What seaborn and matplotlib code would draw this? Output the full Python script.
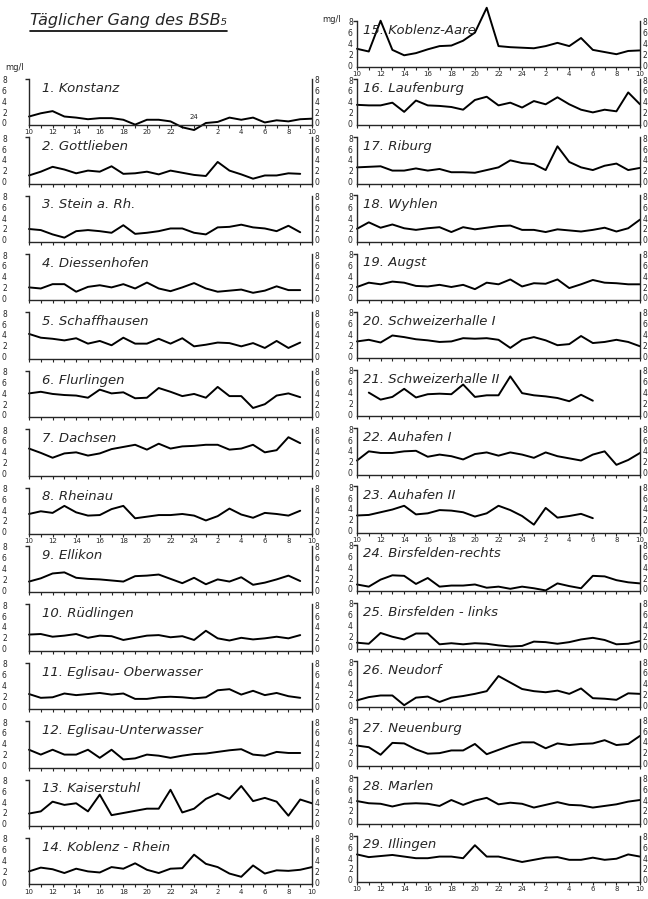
import numpy as np
import pandas as pd
import matplotlib
matplotlib.use('Agg')
import matplotlib.pyplot as plt
import seaborn as sns
from matplotlib.ticker import FixedLocator
from matplotlib.lines import Line2D

nan = np.nan

# one reading per hour, from 10 h to 10 h next day
hours = list(range(25))
hour_labels = ['10', '12', '14', '16', '18', '20', '22', '24', '2', '4', '6', '8', '10']
y_ticks = [0, 2, 4, 6, 8]

# BSB5 in mg/l
konstanz = [1.2, 1.8, 2.2, 1.2, 1.0, 0.7, 0.9, 0.9, 0.6, -0.3, 0.6, 0.6, 0.3, -0.8, -1.3, 0.0, 0.2, 1.0, 0.6, 1.0, 0.1, 0.5, 0.3, 0.7, 0.8]
gottlieben = [1.1, 1.8, 2.7, 2.2, 1.5, 2.0, 1.8, 2.8, 1.4, 1.5, 1.8, 1.3, 2.0, 1.6, 1.2, 1.0, 3.6, 2.0, 1.3, 0.5, 1.1, 1.1, 1.5, 1.4]
stein = [2.0, 1.8, 1.0, 0.4, 1.6, 1.8, 1.6, 1.3, 2.7, 1.1, 1.3, 1.6, 2.1, 2.1, 1.3, 1.0, 2.3, 2.4, 2.8, 2.3, 2.1, 1.6, 2.6, 1.4]
diessenhofen = [2.0, 1.8, 2.6, 2.6, 1.2, 2.1, 2.4, 2.0, 2.6, 1.8, 2.9, 1.8, 1.3, 2.0, 2.8, 1.8, 1.2, 1.4, 1.6, 1.0, 1.4, 2.2, 1.5, 1.5]
schaffhausen = [4.2, 3.5, 3.3, 3.0, 3.4, 2.4, 2.9, 2.1, 3.5, 2.4, 2.4, 3.3, 2.4, 3.4, 1.9, 2.2, 2.6, 2.5, 1.9, 2.5, 1.6, 2.9, 1.6, 2.6]
flurlingen = [4.0, 4.3, 3.9, 3.7, 3.6, 3.2, 4.7, 4.0, 4.2, 3.1, 3.2, 5.0, 4.3, 3.5, 3.9, 3.2, 5.2, 3.5, 3.5, 1.3, 2.0, 3.6, 4.0, 3.3]
dachsen = [4.6, 3.8, 2.9, 3.7, 3.9, 3.3, 3.7, 4.5, 4.9, 5.3, 4.4, 5.5, 4.6, 5.0, 5.1, 5.3, 5.3, 4.4, 4.6, 5.3, 3.9, 4.3, 6.7, 5.6]
rheinau = [3.3, 3.8, 3.5, 4.8, 3.6, 3.0, 3.1, 4.2, 4.8, 2.5, 2.8, 3.1, 3.1, 3.3, 3.0, 2.1, 2.9, 4.3, 3.2, 2.6, 3.5, 3.3, 3.0, 3.9]
ellikon = [1.6, 2.2, 3.1, 3.3, 2.3, 2.1, 2.0, 1.8, 1.6, 2.6, 2.7, 2.9, 2.1, 1.3, 2.3, 1.1, 2.0, 1.6, 2.4, 1.0, 1.4, 2.0, 2.7, 1.7]
ruedlingen = [2.6, 2.7, 2.2, 2.4, 2.7, 2.0, 2.4, 2.3, 1.6, 2.0, 2.4, 2.5, 2.1, 2.3, 1.6, 3.3, 1.9, 1.5, 2.0, 1.7, 1.9, 2.2, 1.9, 2.5]
eglisau_ow = [2.4, 1.7, 1.8, 2.5, 2.2, 2.4, 2.6, 2.3, 2.5, 1.5, 1.5, 1.8, 1.9, 1.8, 1.6, 1.8, 3.1, 3.3, 2.3, 3.0, 2.2, 2.6, 2.0, 1.7]
eglisau_uw = [2.9, 2.0, 2.9, 2.0, 2.0, 2.9, 1.4, 2.9, 1.1, 1.3, 2.0, 1.8, 1.4, 1.8, 2.1, 2.2, 2.5, 2.8, 3.0, 2.0, 1.8, 2.5, 2.3, 2.3]
kaiserstuhl = [1.9, 2.3, 4.1, 3.5, 3.8, 2.3, 5.4, 1.6, 2.0, 2.4, 2.8, 2.8, 6.3, 2.1, 2.8, 4.6, 5.6, 4.6, 7.0, 4.2, 4.8, 4.1, 1.5, 4.5, 3.8]
koblenz_rhein = [2.0, 2.7, 2.4, 1.7, 2.5, 2.0, 1.8, 2.8, 2.5, 3.5, 2.3, 1.7, 2.5, 2.6, 5.1, 3.4, 2.8, 1.6, 1.0, 3.1, 1.6, 2.2, 2.1, 2.3, 2.8]

koblenz_aare = [3.0, 2.5, 8.2, 2.8, 1.8, 2.2, 2.9, 3.5, 3.6, 4.5, 6.0, 10.6, 3.5, 3.3, 3.2, 3.1, 3.5, 4.1, 3.5, 5.0, 2.8, 2.4, 2.0, 2.6, 2.7]
laufenburg = [3.4, 3.3, 3.3, 3.8, 2.1, 4.2, 3.3, 3.2, 3.0, 2.5, 4.3, 4.9, 3.3, 3.8, 2.9, 4.1, 3.5, 4.8, 3.5, 2.5, 2.0, 2.5, 2.2, 5.7, 3.5]
riburg = [2.6, 2.7, 2.8, 2.0, 2.0, 2.4, 2.0, 2.3, 1.7, 1.7, 1.6, 2.1, 2.6, 3.9, 3.4, 3.2, 2.1, 6.5, 3.6, 2.6, 2.1, 2.9, 3.3, 2.1, 2.5]
wyhlen = [2.0, 3.2, 2.2, 2.8, 2.1, 1.8, 2.1, 2.3, 1.4, 2.3, 1.9, 2.2, 2.5, 2.6, 1.8, 1.8, 1.4, 1.9, 1.7, 1.5, 1.8, 2.2, 1.5, 2.1, 3.7]
augst = [2.0, 2.8, 2.5, 3.0, 2.8, 2.2, 2.1, 2.4, 2.0, 2.4, 1.6, 2.8, 2.5, 3.4, 2.1, 2.7, 2.6, 3.4, 1.8, 2.5, 3.3, 2.8, 2.7, 2.5, 2.5]
schweizerhalle_1 = [2.7, 3.0, 2.5, 3.8, 3.5, 3.1, 2.9, 2.6, 2.7, 3.3, 3.2, 3.3, 3.0, 1.5, 3.0, 3.5, 2.9, 2.0, 2.2, 3.7, 2.4, 2.6, 3.0, 2.6, 1.8]
schweizerhalle_2 = [nan, 4.0, 2.7, 3.2, 4.7, 3.1, 3.7, 3.8, 3.7, 5.5, 3.2, 3.5, 3.5, 7.0, 3.9, 3.5, 3.3, 3.0, 2.4, 3.6, 2.5]
auhafen_1 = [2.2, 3.9, 3.6, 3.6, 3.9, 4.0, 2.9, 3.3, 3.0, 2.4, 3.4, 3.7, 3.1, 3.7, 3.3, 2.7, 3.7, 3.0, 2.6, 2.2, 3.3, 3.9, 1.4, 2.3, 3.6]
auhafen_2 = [2.8, 2.9, 3.4, 3.9, 4.6, 3.0, 3.2, 3.8, 3.7, 3.4, 2.6, 3.2, 4.6, 3.8, 2.7, 1.1, 4.2, 2.4, 2.7, 3.1, 2.3]
birsfelden_r = [0.8, 0.4, 1.7, 2.5, 2.4, 0.9, 2.0, 0.4, 0.6, 0.6, 0.8, 0.2, 0.4, 0.0, 0.4, 0.1, -0.3, 1.0, 0.5, 0.1, 2.4, 2.3, 1.6, 1.2, 1.0]
birsfelden_l = [0.8, 0.6, 2.6, 1.9, 1.4, 2.5, 2.5, 0.5, 0.7, 0.5, 0.7, 0.6, 0.3, 0.1, 0.2, 1.0, 0.9, 0.6, 0.9, 1.4, 1.7, 1.3, 0.5, 0.6, 1.1]
neudorf = [0.9, 1.5, 1.8, 1.8, 0.0, 1.4, 1.6, 0.6, 1.4, 1.7, 2.1, 2.6, 5.4, 4.2, 3.0, 2.6, 2.4, 2.7, 2.1, 3.1, 1.3, 1.2, 1.0, 2.2, 2.1]
neuenburg = [3.3, 3.0, 1.6, 3.8, 3.7, 2.6, 1.8, 1.9, 2.4, 2.4, 3.6, 1.7, 2.5, 3.3, 3.9, 3.9, 2.8, 3.7, 3.4, 3.6, 3.7, 4.3, 3.4, 3.6, 5.1]
marlen = [3.8, 3.4, 3.3, 2.8, 3.3, 3.4, 3.3, 2.9, 4.0, 3.1, 3.9, 4.4, 3.2, 3.5, 3.3, 2.6, 3.1, 3.6, 3.1, 3.0, 2.6, 2.9, 3.2, 3.7, 4.0]
illingen = [4.7, 4.2, 4.4, 4.6, 4.3, 4.0, 4.0, 4.3, 4.3, 4.0, 6.4, 4.3, 4.3, 3.8, 3.3, 3.7, 4.1, 4.2, 3.7, 3.7, 4.1, 3.7, 3.9, 4.7, 4.3]

left_panels = [
    ('1. Konstanz', konstanz), ('2. Gottlieben', gottlieben), ('3. Stein a. Rh.', stein),
    ('4. Diessenhofen', diessenhofen), ('5. Schaffhausen', schaffhausen), ('6. Flurlingen', flurlingen),
    ('7. Dachsen', dachsen), ('8. Rheinau', rheinau), ('9. Ellikon', ellikon),
    ('10. Rüdlingen', ruedlingen), ('11. Eglisau- Oberwasser', eglisau_ow),
    ('12. Eglisau-Unterwasser', eglisau_uw), ('13. Kaiserstuhl', kaiserstuhl),
    ('14. Koblenz - Rhein', koblenz_rhein),
]
right_panels = [
    ('15. Koblenz-Aare', koblenz_aare), ('16. Laufenburg', laufenburg), ('17. Riburg', riburg),
    ('18. Wyhlen', wyhlen), ('19. Augst', augst), ('20. Schweizerhalle I', schweizerhalle_1),
    ('21. Schweizerhalle II', schweizerhalle_2), ('22. Auhafen I', auhafen_1),
    ('23. Auhafen II', auhafen_2), ('24. Birsfelden-rechts', birsfelden_r),
    ('25. Birsfelden - links', birsfelden_l), ('26. Neudorf', neudorf),
    ('27. Neuenburg', neuenburg), ('28. Marlen', marlen), ('29. Illingen', illingen),
]

sns.set_style('ticks')
plt.rcParams['font.family'] = ['DejaVu Sans']

W, H = 648, 899
fig = plt.figure(figsize=(W / 100, H / 100), dpi=100)

YMIN, YMAX = -0.4, 8.2
PX_PER_UNIT = 5.4


def draw_panel(x0, x1, zero_px, title, values, labelled, lpad, title_dx):
    bottom = zero_px - YMIN * PX_PER_UNIT
    height = (YMAX - YMIN) * PX_PER_UNIT
    ax = fig.add_axes([x0 / W, 1 - bottom / H, (x1 - x0) / W, height / H])
    df = pd.DataFrame({'hour': hours[:len(values)], 'bsb': values})
    sns.lineplot(data=df, x='hour', y='bsb', ax=ax, color='black', lw=1.4,
                 estimator=None, errorbar=None)
    for ln in ax.lines:
        ln.set_clip_on(False)
    ax.set_xlim(0, 24)
    ax.set_ylim(YMIN, YMAX)
    ax.set_xlabel('')
    ax.set_ylabel('')
    ax.spines['top'].set_visible(False)
    for s in ['left', 'right', 'bottom']:
        ax.spines[s].set_linewidth(1.0)

    ax.set_xticks(hours)
    if labelled:
        ax.set_xticklabels([hour_labels[h // 2] if h % 2 == 0 else '' for h in hours])
    else:
        ax.set_xticklabels([])
    ax.tick_params(axis='x', length=2.5, width=0.8, pad=0.5, labelsize=5)

    ax.set_yticks(y_ticks)
    ax.yaxis.set_minor_locator(FixedLocator([YMAX]))
    ax.tick_params(axis='y', which='major', length=0, labelsize=5.5, pad=lpad,
                   left=False, right=False, labelleft=True, labelright=False)
    ax.tick_params(axis='y', which='minor', length=3, width=1.0,
                   left=True, right=True)

    ax2 = ax.twinx()
    ax2.set_ylim(YMIN, YMAX)
    ax2.set_yticks(y_ticks)
    ax2.tick_params(axis='y', length=0, labelsize=5.5, pad=2)
    for s in ax2.spines.values():
        s.set_visible(False)

    ax.text(title_dx / (x1 - x0), 0.8, title, transform=ax.transAxes,
            fontsize=9.5, style='italic', va='center', ha='left')
    return ax


for i, (title, vals) in enumerate(left_panels):
    ax = draw_panel(29, 312, 123 + 58.4 * i, title, vals, i in (0, 7, 13), 16, 13)
    if i == 0:
        labels = [t.get_text() for t in ax.get_xticklabels()]
        labels[14] = ''
        ax.set_xticklabels(labels)
        ax.text(14, 0.5, '24', fontsize=5, ha='center', va='bottom')

for j, (title, vals) in enumerate(right_panels):
    draw_panel(357, 640, 65 + 58.2 * j, title, vals, j in (0, 8, 14), 3, 6)

title = fig.text(30 / W, 1 - 21 / H, 'Täglicher Gang des BSB₅', fontsize=11.5,
                 style='italic', ha='left', va='center')
fig.canvas.draw()
bb = title.get_window_extent(renderer=fig.canvas.get_renderer())
y_line = (bb.y0 - 2) / H
fig.add_artist(Line2D([bb.x0 / W, bb.x1 / W], [y_line, y_line],
                      transform=fig.transFigure, color='black', lw=1.2))

fig.text(5 / W, 1 - 68 / H, 'mg/l', fontsize=6, ha='left', va='center')
fig.text(322 / W, 1 - 20 / H, 'mg/l', fontsize=6, ha='left', va='center')

fig.savefig('out.png', dpi=100, facecolor='white')
